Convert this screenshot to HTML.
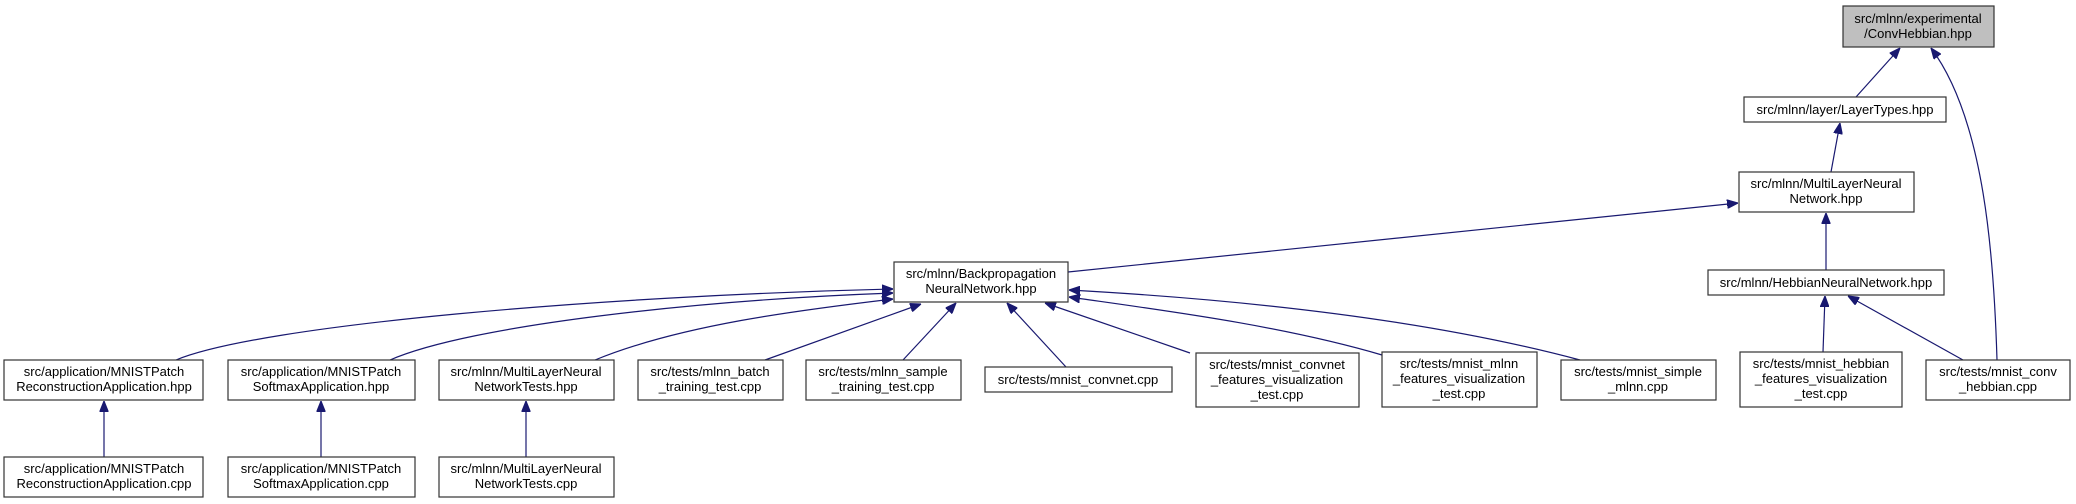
<!DOCTYPE html>
<html><head><meta charset="utf-8"><style>
html,body{margin:0;padding:0;background:#fff}
svg{display:block}
text{font-family:"Liberation Sans",Helvetica,Arial,sans-serif;font-size:13px;fill:#000}
</style></head><body>
<svg width="2076" height="504" viewBox="0 0 2076 504" xmlns="http://www.w3.org/2000/svg">
<defs>
<marker id="a" viewBox="0 0 10 8" refX="10" refY="4" markerWidth="11" markerHeight="9" markerUnits="userSpaceOnUse" orient="auto">
<path d="M0,0 L10,4 L0,8 Z" fill="#191970" stroke="#191970"/>
</marker>
</defs>
<g fill="none" stroke="#191970" stroke-width="1.2" marker-end="url(#a)">
<path d="M1856,97 L1900,48"/>
<path d="M1997,360 C1994,260 1985,120 1931,48"/>
<path d="M1831,172 L1840,123"/>
<path d="M1826,270 L1826,213"/>
<path d="M1823,352 L1825,296"/>
<path d="M1963,360 L1848,296"/>
<path d="M1068,272 L1738,203"/>
<path d="M176,360 C260,325 600,296 893,289"/>
<path d="M390,360 C470,325 700,300 893,293"/>
<path d="M595,360 C680,325 800,310 893,299"/>
<path d="M765,360 L921,304"/>
<path d="M903,360 L956,303"/>
<path d="M1066,367 L1007,303"/>
<path d="M1190,353 L1045,303"/>
<path d="M1382,355 C1280,325 1160,310 1069,297"/>
<path d="M1580,360 C1430,320 1250,300 1069,290"/>
<path d="M104,457 L104,401"/>
<path d="M321,457 L321,401"/>
<path d="M526,457 L526,401"/>
</g>
<g stroke="#333" stroke-width="1.2" fill="#fff">
<rect x="1843" y="6" width="151" height="41" fill="#bfbfbf"/>
<rect x="1744" y="97" width="202" height="25"/>
<rect x="1739" y="172" width="175" height="40"/>
<rect x="1708" y="270" width="236" height="25"/>
<rect x="1740" y="352" width="162" height="55"/>
<rect x="1926" y="360" width="144" height="40"/>
<rect x="894" y="262" width="174" height="40"/>
<rect x="4" y="360" width="199" height="40"/>
<rect x="228" y="360" width="187" height="40"/>
<rect x="439" y="360" width="175" height="40"/>
<rect x="638" y="360" width="145" height="40"/>
<rect x="806" y="360" width="155" height="40"/>
<rect x="985" y="367" width="187" height="25"/>
<rect x="1196" y="353" width="163" height="54"/>
<rect x="1382" y="352" width="155" height="55"/>
<rect x="1561" y="360" width="155" height="40"/>
<rect x="4" y="457" width="199" height="40"/>
<rect x="228" y="457" width="187" height="40"/>
<rect x="439" y="457" width="175" height="40"/>
</g>
<g text-anchor="middle">
<text x="1918" y="23">src/mlnn/experimental</text><text x="1918" y="38">/ConvHebbian.hpp</text>
<text x="1845" y="114">src/mlnn/layer/LayerTypes.hpp</text>
<text x="1826" y="188">src/mlnn/MultiLayerNeural</text><text x="1826" y="203">Network.hpp</text>
<text x="1826" y="287">src/mlnn/HebbianNeuralNetwork.hpp</text>
<text x="1821" y="368">src/tests/mnist_hebbian</text><text x="1821" y="383">_features_visualization</text><text x="1821" y="398">_test.cpp</text>
<text x="1998" y="376">src/tests/mnist_conv</text><text x="1998" y="391">_hebbian.cpp</text>
<text x="981" y="278">src/mlnn/Backpropagation</text><text x="981" y="293">NeuralNetwork.hpp</text>
<text x="104" y="376">src/application/MNISTPatch</text><text x="104" y="391">ReconstructionApplication.hpp</text>
<text x="321" y="376">src/application/MNISTPatch</text><text x="321" y="391">SoftmaxApplication.hpp</text>
<text x="526" y="376">src/mlnn/MultiLayerNeural</text><text x="526" y="391">NetworkTests.hpp</text>
<text x="710" y="376">src/tests/mlnn_batch</text><text x="710" y="391">_training_test.cpp</text>
<text x="883" y="376">src/tests/mlnn_sample</text><text x="883" y="391">_training_test.cpp</text>
<text x="1078" y="384">src/tests/mnist_convnet.cpp</text>
<text x="1277" y="369">src/tests/mnist_convnet</text><text x="1277" y="384">_features_visualization</text><text x="1277" y="399">_test.cpp</text>
<text x="1459" y="368">src/tests/mnist_mlnn</text><text x="1459" y="383">_features_visualization</text><text x="1459" y="398">_test.cpp</text>
<text x="1638" y="376">src/tests/mnist_simple</text><text x="1638" y="391">_mlnn.cpp</text>
<text x="104" y="473">src/application/MNISTPatch</text><text x="104" y="488">ReconstructionApplication.cpp</text>
<text x="321" y="473">src/application/MNISTPatch</text><text x="321" y="488">SoftmaxApplication.cpp</text>
<text x="526" y="473">src/mlnn/MultiLayerNeural</text><text x="526" y="488">NetworkTests.cpp</text>
</g>
</svg>
</body></html>
